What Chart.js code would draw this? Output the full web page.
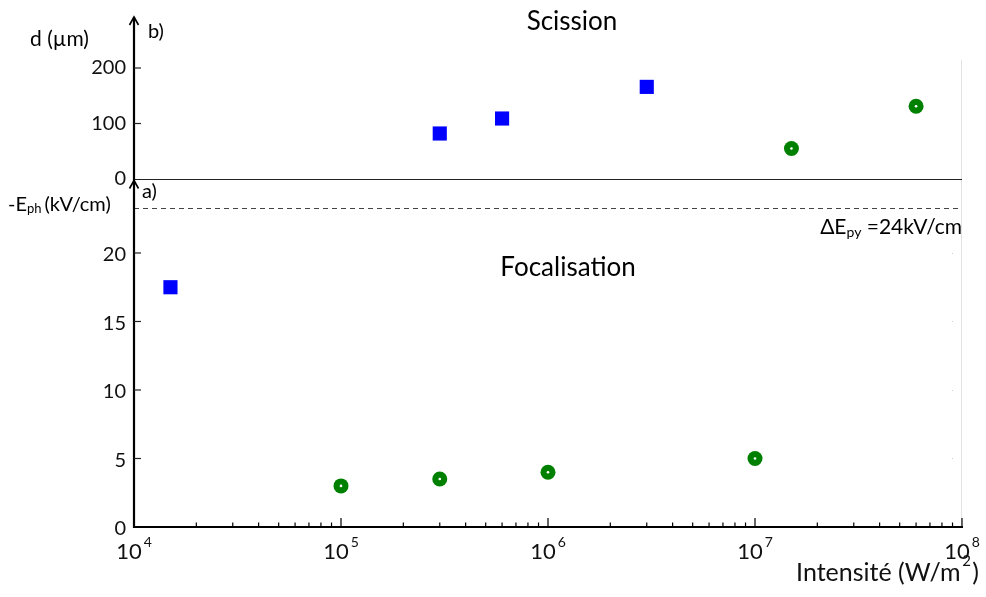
<!DOCTYPE html>
<html>
<head>
<meta charset="utf-8">
<script src="https://cdn.jsdelivr.net/npm/chart.js@4.4.0/dist/chart.umd.min.js"></script>
<style>
  html, body { margin: 0; padding: 0; background: #fff; }
  #wrap { width: 986px; height: 597px; }
</style>
</head>
<body>
<div id="wrap"><canvas id="chart" width="986" height="597"></canvas></div>
<script>
// Données
const decades = [4, 5, 6, 7, 8];          // 10^4 ... 10^8 W/m2
const scissionTicks = [0, 100, 200];      // d (µm)
const focalTicks = [0, 5, 10, 15, 20];    // -Eph (kV/cm)

// b) Scission : distance d (µm)
const scissionSqX = [3e5, 6e5, 3e6];
const scissionSqY = [82, 109, 166];
const scissionCircX = [1.5e7, 6e7];
const scissionCircY = [55, 131];

// a) Focalisation : -Eph (kV/cm)
const focalSqX = [1.5e4];
const focalSqY = [17.5];
const focalCircX = [1e5, 3e5, 1e6, 1e7];
const focalCircY = [3, 3.5, 4, 5];

const pyroLevel = 23.3; // ligne pointillée ΔEpy

const FONT = 'Lato, "Open Sans", sans-serif';
const BLUE = '#0000ff';
const GREEN = '#008000';

const toPts = (xs, ys) => xs.map((x, i) => ({ x: x, y: ys[i] }));

// Décor : axes fléchés, graduations, textes
const decor = {
  id: 'decor',
  afterDatasetsDraw(chart) {
    const ctx = chart.ctx;
    chart.data.datasets.forEach((ds, i) => {
      if (ds.pointStyle !== 'circle') return;
      chart.getDatasetMeta(i).data.forEach(p => {
        ctx.save();
        ctx.fillStyle = '#fff';
        ctx.beginPath();
        ctx.arc(p.x, p.y, 1.3, 0, Math.PI * 2);
        ctx.fill();
        ctx.restore();
      });
    });
  },
  afterDraw(chart) {
    const ctx = chart.ctx;
    const xs = chart.scales.x, yT = chart.scales.yTop, yB = chart.scales.yBot;
    const L = xs.left, R = xs.right, B = yB.bottom, mid = Math.round(yB.top) + 0.5, T = yT.top;
    ctx.save();

    // cadre droit très clair
    ctx.strokeStyle = '#e2e2e2';
    ctx.lineWidth = 1;
    ctx.beginPath();
    ctx.moveTo(R - 0.5, yT.getPixelForValue(215));
    ctx.lineTo(R - 0.5, B);
    ctx.stroke();
    ctx.fillStyle = '#cfcfcf';
    focalTicks.slice(1).forEach(v => {
      ctx.fillRect(R - 10, Math.round(yB.getPixelForValue(v)), 1, 1);
    });

    // ligne du zéro (séparation des deux panneaux)
    ctx.strokeStyle = '#222';
    ctx.lineWidth = 1;
    ctx.beginPath();
    ctx.moveTo(L, mid);
    ctx.lineTo(R, mid);
    ctx.stroke();

    // ligne pointillée ΔEpy
    const yp = Math.round(yB.getPixelForValue(pyroLevel)) + 0.5;
    ctx.strokeStyle = '#444';
    ctx.lineWidth = 1;
    ctx.setLineDash([5, 4]);
    ctx.beginPath();
    ctx.moveTo(L, yp);
    ctx.lineTo(R, yp);
    ctx.stroke();
    ctx.setLineDash([]);

    // axe vertical avec flèches
    ctx.strokeStyle = '#000';
    ctx.lineWidth = 2.2;
    ctx.beginPath();
    ctx.moveTo(L, B + 1);
    ctx.lineTo(L, T - 3);
    ctx.stroke();
    const arrow = (x, y) => {
      ctx.lineWidth = 1.6;
      ctx.beginPath();
      ctx.moveTo(x - 4.5, y + 8);
      ctx.lineTo(x, y);
      ctx.lineTo(x + 4.5, y + 8);
      ctx.stroke();
    };
    arrow(L, T - 3);
    arrow(L, mid + 1);

    // axe horizontal
    ctx.lineWidth = 2.2;
    ctx.beginPath();
    ctx.moveTo(L - 1, B);
    ctx.lineTo(R + 1, B);
    ctx.stroke();

    // graduations log (vers l'intérieur)
    ctx.lineWidth = 1.2;
    decades.forEach((d, k) => {
      const px = xs.getPixelForValue(Math.pow(10, d));
      if (k > 0) {
        ctx.beginPath();
        ctx.moveTo(px, B);
        ctx.lineTo(px, B - 9);
        ctx.stroke();
      }
      if (k < decades.length - 1) {
        for (let m = 2; m <= 9; m++) {
          const pm = xs.getPixelForValue(m * Math.pow(10, d));
          ctx.beginPath();
          ctx.moveTo(pm, B);
          ctx.lineTo(pm, B - 4.5);
          ctx.stroke();
        }
      }
    });

    // graduations verticales
    ctx.strokeStyle = '#222';
    ctx.lineWidth = 1.2;
    ctx.fillStyle = '#111';
    ctx.font = '20px ' + FONT;
    ctx.textAlign = 'right';
    ctx.textBaseline = 'middle';
    scissionTicks.forEach(v => {
      const py = yT.getPixelForValue(v);
      if (v > 0) {
        ctx.beginPath();
        ctx.moveTo(L, py);
        ctx.lineTo(L + 7, py);
        ctx.stroke();
      }
      ctx.fillText(String(v), L - 8, py);
    });
    focalTicks.forEach(v => {
      const py = yB.getPixelForValue(v);
      if (v > 0) {
        ctx.beginPath();
        ctx.moveTo(L, py);
        ctx.lineTo(L + 7, py);
        ctx.stroke();
      }
      ctx.fillText(String(v), L - 8, py + 2);
    });

    // étiquettes 10^n
    ctx.textBaseline = 'alphabetic';
    ctx.textAlign = 'left';
    decades.forEach(d => {
      const px = xs.getPixelForValue(Math.pow(10, d));
      ctx.font = '22px ' + FONT;
      const w1 = ctx.measureText('10').width;
      ctx.font = '14px ' + FONT;
      const w2 = ctx.measureText(String(d)).width;
      const x0 = px - (w1 + 2 + w2) / 2;
      ctx.font = '22px ' + FONT;
      ctx.fillText('10', x0, B + 32);
      ctx.font = '14px ' + FONT;
      ctx.fillText(String(d), x0 + w1 + 2, B + 20);
    });

    // titre de l'axe x
    const tA = 'Intensité (W/m';
    ctx.font = '15px ' + FONT;
    const wSup = ctx.measureText('2').width;
    ctx.font = '25px ' + FONT;
    const wA = ctx.measureText(tA).width;
    const wP = ctx.measureText(')').width;
    const xEnd = 979;
    const xa = xEnd - wP - wSup - 3 - wA;
    ctx.fillText(tA, xa, 581);
    ctx.fillText(')', xEnd - wP, 581);
    ctx.font = '15px ' + FONT;
    ctx.fillText('2', xa + wA + 1.5, 566);

    // textes des panneaux
    ctx.fillStyle = '#000';
    ctx.font = '26px ' + FONT;
    ctx.textAlign = 'center';
    ctx.fillText('Scission', 572, 30);
    ctx.fillText('Focalisation', 568, 276);

    ctx.textAlign = 'left';
    ctx.font = '21px ' + FONT;
    ctx.fillText('d (µm)', 30, 46);
    ctx.font = '20px ' + FONT;
    ctx.fillText('b)', 148, 38);
    ctx.fillText('a)', 142, 198);

    // -Eph (kV/cm)
    let cx = 8;
    ctx.font = '20px ' + FONT;
    ctx.fillText('-E', cx, 211);
    cx += ctx.measureText('-E').width;
    ctx.font = '13px ' + FONT;
    ctx.fillText('ph', cx, 213);
    cx += ctx.measureText('ph').width + 3;
    ctx.font = '20px ' + FONT;
    ctx.fillText('(kV/cm)', cx, 211);

    // ΔEpy =24kV/cm (aligné à droite)
    ctx.font = '21px ' + FONT;
    const p1 = 'ΔE', p3 = ' =24kV/cm';
    const w1 = ctx.measureText(p1).width, w3 = ctx.measureText(p3).width;
    ctx.font = '14px ' + FONT;
    const w2 = ctx.measureText('py').width;
    let dx = R - (w1 + w2 + w3);
    ctx.font = '21px ' + FONT;
    ctx.fillText(p1, dx, 234);
    ctx.font = '14px ' + FONT;
    ctx.fillText('py', dx + w1, 237);
    ctx.font = '21px ' + FONT;
    ctx.fillText(p3, dx + w1 + w2, 234);

    ctx.restore();
  }
};

const hiddenAxis = {
  grid: { display: false },
  border: { display: false },
  ticks: { display: false }
};

new Chart(document.getElementById('chart'), {
  type: 'scatter',
  data: {
    datasets: [
      { label: 'Scission carrés', data: toPts(scissionSqX, scissionSqY), yAxisID: 'yTop',
        pointStyle: 'rect', radius: 10, backgroundColor: BLUE, borderColor: BLUE, borderWidth: 0 },
      { label: 'Scission cercles', data: toPts(scissionCircX, scissionCircY), yAxisID: 'yTop',
        pointStyle: 'circle', radius: 7.5, backgroundColor: GREEN, borderColor: GREEN, borderWidth: 0 },
      { label: 'Focalisation carrés', data: toPts(focalSqX, focalSqY), yAxisID: 'yBot',
        pointStyle: 'rect', radius: 10, backgroundColor: BLUE, borderColor: BLUE, borderWidth: 0 },
      { label: 'Focalisation cercles', data: toPts(focalCircX, focalCircY), yAxisID: 'yBot',
        pointStyle: 'circle', radius: 7.5, backgroundColor: GREEN, borderColor: GREEN, borderWidth: 0 }
    ]
  },
  options: {
    responsive: false,
    animation: false,
    devicePixelRatio: 1,
    layout: { padding: { top: 20, right: 24, bottom: 0, left: 0 } },
    plugins: { legend: { display: false }, tooltip: { enabled: false } },
    scales: {
      x: Object.assign({ type: 'logarithmic', min: 1e4, max: 1e8,
        afterFit: s => { s.height = 70; } }, hiddenAxis),
      yTop: Object.assign({ type: 'linear', position: 'left', stack: 'v', stackWeight: 159, weight: 2,
        min: 0, max: 286.5, afterFit: s => { s.width = 134; } }, hiddenAxis),
      yBot: Object.assign({ type: 'linear', position: 'left', stack: 'v', stackWeight: 348, weight: 1,
        min: 0, max: 25.4, afterFit: s => { s.width = 134; } }, hiddenAxis)
    }
  },
  plugins: [decor]
});
</script>
</body>
</html>
